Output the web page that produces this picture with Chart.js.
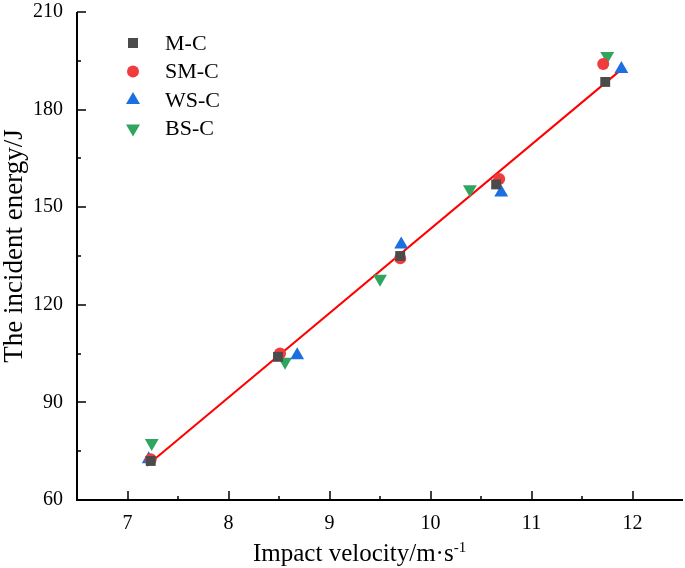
<!DOCTYPE html>
<html>
<head>
<meta charset="utf-8">
<script src="https://cdn.jsdelivr.net/npm/chart.js@4.4.1/dist/chart.umd.min.js"></script>
<style>
  html, body { margin: 0; padding: 0; background: #fff; }
  #wrap { width: 685px; height: 568px; }
</style>
</head>
<body>
<div id="wrap"><canvas id="myChart1" width="685" height="568"></canvas></div>
<script>
// data
const seriesNames = ['M-C', 'SM-C', 'WS-C', 'BS-C'];
const mcX = [7.23, 8.49, 9.70, 10.65, 11.73];
const mcY = [72.0, 104.0, 135.0, 157.0, 188.5];
const smcX = [7.23, 8.51, 9.70, 10.68, 11.71];
const smcY = [72.5, 105.0, 134.3, 158.7, 194.0];
const wscX = [7.21, 8.68, 9.71, 10.70, 11.89];
const wscY = [72.5, 104.5, 138.5, 154.5, 192.5];
const bscX = [7.24, 8.56, 9.50, 10.39, 11.75];
const bscY = [77.5, 102.5, 128.0, 155.5, 196.5];
const fitX = [7.19, 11.90];
const fitY = [70.5, 192.6];

const xTicks = [7, 8, 9, 10, 11, 12];
const yTicks = [60, 90, 120, 150, 180, 210];
const xTitle = 'Impact velocity/m·s';
const xTitleSup = '-1';
const yTitle = 'The incident energy/J';

const serif = '"Liberation Serif", "Times New Roman", serif';

function pts(xs, ys) {
    return xs.map(function(x, i) { return { x: x, y: ys[i] }; });
}

const markers = [
    { color: '#4b4b4b', style: 'rect', radius: 7, rotation: 0 },
    { color: '#f03c3c', style: 'circle', radius: 6, rotation: 0 },
    { color: '#1b6fe0', style: 'triangle', radius: 8, rotation: 0 },
    { color: '#2fa55f', style: 'triangle', radius: 8, rotation: 180 }
];
const seriesX = [mcX, smcX, wscX, bscX];
const seriesY = [mcY, smcY, wscY, bscY];

const datasets = seriesNames.map(function(name, i) {
    return {
        label: name,
        data: pts(seriesX[i], seriesY[i]),
        pointStyle: markers[i].style,
        pointRadius: markers[i].radius,
        pointRotation: markers[i].rotation,
        backgroundColor: markers[i].color,
        borderColor: markers[i].color,
        borderWidth: 0,
        showLine: false
    };
});
datasets.push({
    label: 'fit',
    data: pts(fitX, fitY),
    showLine: true,
    borderColor: '#ff0000',
    borderWidth: 2,
    pointRadius: 0,
    fill: false
});

// axes with inward ticks, legend and titles
const framePlugin = {
    id: 'frame',
    afterDraw: function(chart) {
        const ctx = chart.ctx;
        const a = chart.chartArea;
        const xs = chart.scales.x, ys = chart.scales.y;
        ctx.save();
        ctx.strokeStyle = '#000';
        ctx.lineWidth = 2;
        ctx.beginPath();
        ctx.moveTo(a.left, a.top);
        ctx.lineTo(a.left, a.bottom);
        ctx.lineTo(a.right, a.bottom);
        ctx.stroke();

        ctx.lineWidth = 1.5;
        ctx.beginPath();
        for (let v = 7; v <= 12.01; v += 0.5) {
            const px = Math.round(xs.getPixelForValue(v));
            const len = Number.isInteger(v) ? 9 : 4;
            ctx.moveTo(px, a.bottom);
            ctx.lineTo(px, a.bottom - len);
        }
        for (let v = 75; v <= 210; v += 15) {
            const py = Math.round(ys.getPixelForValue(v));
            const len = (v % 30 === 0) ? 9 : 4;
            ctx.moveTo(a.left, py);
            ctx.lineTo(a.left + len, py);
        }
        ctx.stroke();

        // legend
        ctx.font = '22px ' + serif;
        ctx.textBaseline = 'middle';
        ctx.textAlign = 'left';
        seriesNames.forEach(function(name, i) {
            const cx = 133, cy = 43 + i * 28.5;
            const m = markers[i];
            ctx.fillStyle = m.color;
            ctx.beginPath();
            if (m.style === 'rect') {
                ctx.rect(cx - 5, cy - 5, 10, 10);
            } else if (m.style === 'circle') {
                ctx.arc(cx, cy, 6, 0, Math.PI * 2);
            } else {
                const d = m.rotation ? -1 : 1;
                ctx.moveTo(cx, cy - d * 8);
                ctx.lineTo(cx - 7, cy + d * 4);
                ctx.lineTo(cx + 7, cy + d * 4);
                ctx.closePath();
            }
            ctx.fill();
            ctx.fillStyle = '#000';
            ctx.fillText(name, 165, cy + 1);
        });

        // x title with superscript
        ctx.font = '25px ' + serif;
        const w1 = ctx.measureText(xTitle).width;
        ctx.textBaseline = 'alphabetic';
        ctx.fillText(xTitle, 253, 561);
        ctx.font = '15px ' + serif;
        ctx.fillText(xTitleSup, 253 + w1, 552);

        // y title
        ctx.translate(15, 246);
        ctx.rotate(-Math.PI / 2);
        ctx.textAlign = 'center';
        ctx.textBaseline = 'middle';
        ctx.font = '27px ' + serif;
        ctx.fillText(yTitle, 0, 0);
        ctx.restore();
    }
};

function noPad(s) {
    s.paddingTop = 0; s.paddingBottom = 0; s.paddingLeft = 0; s.paddingRight = 0;
}

const ctx = document.getElementById('myChart1').getContext('2d');
const myChart1 = new Chart(ctx, {
    type: 'scatter',
    data: { datasets: datasets },
    options: {
        responsive: false,
        animation: false,
        layout: { autoPadding: false, padding: { top: 12, right: 2, left: 0, bottom: 0 } },
        plugins: { legend: { display: false }, tooltip: { enabled: false } },
        scales: {
            x: {
                type: 'linear', min: 6.5, max: 12.5,
                afterFit: function(s) { s.height = 68; noPad(s); },
                afterBuildTicks: function(s) { s.ticks = xTicks.map(function(v) { return { value: v }; }); },
                grid: { display: false, drawTicks: false },
                border: { display: false },
                ticks: { color: '#000', padding: 12, font: { family: serif, size: 20 } }
            },
            y: {
                type: 'linear', min: 60, max: 210,
                afterFit: function(s) { s.width = 77; noPad(s); },
                afterBuildTicks: function(s) { s.ticks = yTicks.map(function(v) { return { value: v }; }); },
                grid: { display: false, drawTicks: false },
                border: { display: false },
                ticks: { color: '#000', padding: 14, font: { family: serif, size: 20 } }
            }
        }
    },
    plugins: [framePlugin]
});
</script>
</body>
</html>
